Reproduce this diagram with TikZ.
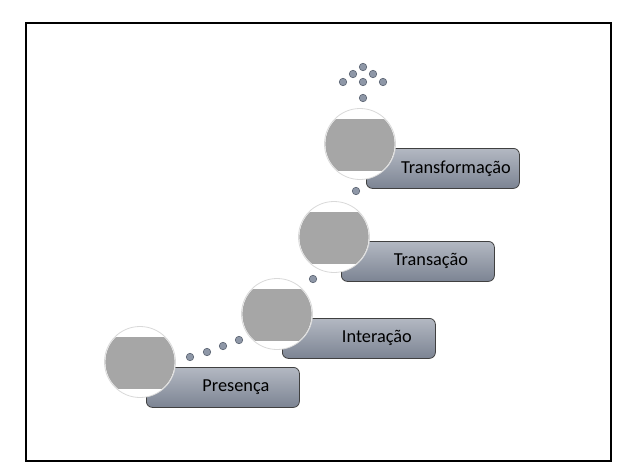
\documentclass[tikz,border=0pt]{standalone}
\usepackage{fontspec}
\setmainfont{Carlito}
\begin{document}
\begin{tikzpicture}[x=1pt,y=-1pt,
  stepbox/.style={draw=black!75,line width=0.8pt,rounded corners=6pt,top color=boxtop,bottom color=boxbot,minimum width=153pt,minimum height=40pt,inner sep=0pt,font=\fontsize{18.3}{20}\selectfont,text=black,text width=150pt,align=center},
  disc/.style={circle,draw=black!15,line width=0.8pt,fill=white,minimum size=71pt,inner sep=0pt},
  dot/.style={circle,draw=dotline,fill=dotfill,line width=0.6pt,minimum size=7.5pt,inner sep=0pt}]
\definecolor{boxtop}{HTML}{B3B8C2}
\definecolor{boxbot}{HTML}{7C8493}
\definecolor{dotfill}{HTML}{8E97A7}
\definecolor{dotline}{HTML}{5C6473}
\definecolor{band}{HTML}{A6A6A6}
\useasboundingbox (0,0) rectangle (634,472);
\draw[line width=2pt] (26,23) rectangle (611,461);
% boxes
\node[stepbox,anchor=north west] (b1) at (146,367) {\hspace*{26pt}Presença};
\node[stepbox,anchor=north west] (b2) at (282,318) {\hspace*{36pt}Interação};
\node[stepbox,anchor=north west] (b3) at (341,241) {\hspace*{26pt}Transação};
\node[stepbox,anchor=north west] (b4) at (366,148) {\hspace*{26pt}Transformação};
% circles with band
\foreach \n/\cx/\cy in {c1/140/362, c2/277/314, c3/334/237, c4/360/144}{
  \node[disc] (\n) at (\cx,\cy) {};
  \begin{scope}
    \clip (\cx,\cy) circle (34.6pt);
    \fill[band] (\cx-40,\cy-25) rectangle (\cx+40,\cy+27);
  \end{scope}
}
% dots
\node[dot] (d1) at (190,357) {};
\node[dot] (d2) at (207,352) {};
\node[dot] (d3) at (223,346) {};
\node[dot] (d4) at (239,340) {};
\node[dot] (d5) at (313,279) {};
\node[dot] (d6) at (356,191) {};
\node[dot] (t1) at (363,67) {};
\node[dot] (t2) at (353,74) {};
\node[dot] (t3) at (373,74) {};
\node[dot] (t4) at (343,82) {};
\node[dot] (t5) at (363,82) {};
\node[dot] (t6) at (383,82) {};
\node[dot] (t7) at (363,98) {};
\end{tikzpicture}
\end{document}
